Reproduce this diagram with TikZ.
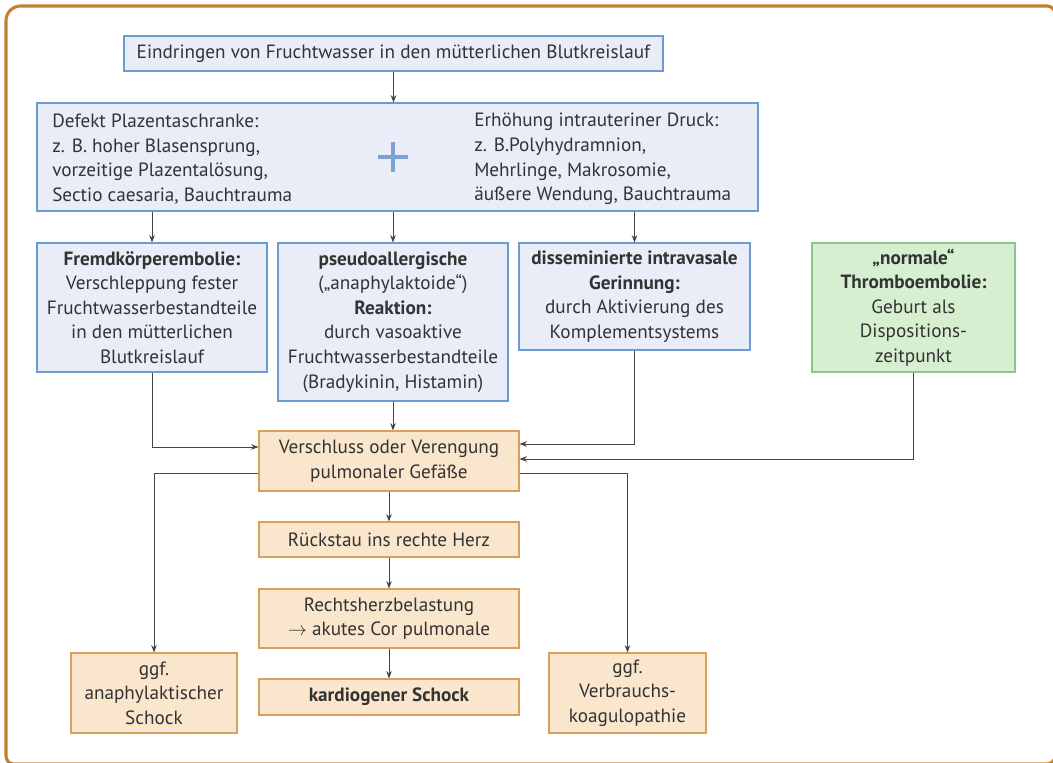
\documentclass[tikz,border=0pt]{standalone}
\usepackage{fontspec}
\setmainfont{PT Sans}
\usetikzlibrary{arrows.meta}
\usetikzlibrary{calc}
\definecolor{frameorange}{HTML}{C47F2E}
\definecolor{bluefill}{HTML}{E8EDF8}
\definecolor{bluedraw}{HTML}{6B9BD2}
\definecolor{greenfill}{HTML}{D6EFD0}
\definecolor{greendraw}{HTML}{8DC58A}
\definecolor{orangefill}{HTML}{FAE6CC}
\definecolor{orangedraw}{HTML}{D9A05B}
\definecolor{plusblue}{HTML}{7FA0D4}
\definecolor{txt}{HTML}{333333}
\definecolor{flowline}{HTML}{454545}

\begin{document}
\begin{tikzpicture}[x=0.75pt, y=-0.75pt, >={Stealth[length=5.5pt, width=4.2pt]},
box/.style={draw, line width=.8pt, inner sep=0, align=center, text=txt, font=\fontsize{14.4}{18.4}\selectfont},
bluebox/.style={box, draw=bluedraw, fill=bluefill},
greenbox/.style={box, draw=greendraw, fill=greenfill},
orangebox/.style={box, draw=orangedraw, fill=orangefill},
plain/.style={inner sep=0, align=left, text=txt, font=\fontsize{14.4}{18.4}\selectfont},
pluscross/.style={minimum size=22.5pt, inner sep=0, path picture={
  \draw[plusblue, line width=3pt] (path picture bounding box.north) -- (path picture bounding box.south)
  (path picture bounding box.west) -- (path picture bounding box.east);}},
flow/.style={->, line width=.75pt, draw=flowline},
frame/.style={draw=frameorange, line width=2.3pt}]
\useasboundingbox (0,0) rectangle (1053,763);
%%%%%%%%%%%%%%%%%%%%%%% RAHMEN %%%%%%%%%%%%%%%%%%%%%%%%%%%
\draw[frame] (6,300) [rounded corners=11pt] -- (6,6) [rounded corners=6pt] -- (1055,6) -- (1055,764) -- (6,764) -- cycle;
%%%%%%%%%%%%%%%%%%%%%%% URSACHEN %%%%%%%%%%%%%%%%%%%%%%%%%%%
\node[bluebox, minimum width=404.25pt, minimum height=26.25pt] (entry) at (393.5,53.5) {Eindringen von Fruchtwasser in den mütterlichen Blutkreislauf};
\node[bluebox, minimum width=540.75pt, minimum height=81pt] (risk) at (397.5,157) {};
\node[plain, anchor=west] (placenta) at (52,159) {Defekt Plazentaschranke:\\z. B. hoher Blasensprung,\\vorzeitige Plazentalösung,\\Sectio caesaria, Bauchtrauma};
\node[plain, anchor=west] (pressure) at (474,159) {Erhöhung intrauteriner Druck:\\z. B.Polyhydramnion,\\Mehrlinge, Makrosomie,\\äußere Wendung, Bauchtrauma};
\node[pluscross] (plus) at (393,157) {};
%%%%%%%%%%%%%%%%%%%%%%% MECHANISMEN %%%%%%%%%%%%%%%%%%%%%%%%%%%
\node[bluebox, minimum width=172.5pt, minimum height=96.75pt] (fremd) at (152,307.5) {\textbf{Fremdkörperembolie:}\\Verschleppung fester\\Fruchtwasserbestandteile\\in den mütterlichen\\Blutkreislauf};
\node[bluebox, minimum width=172.5pt, minimum height=118.5pt] (pseudo) at (393,322) {\textbf{pseudoallergische}\\(„anaphylaktoide“)\\\textbf{Reaktion:}\\durch vasoaktive\\Fruchtwasserbestandteile\\(Bradykinin, Histamin)};
\node[bluebox, minimum width=173.25pt, minimum height=80.25pt] (dic) at (634.5,296.5) {\textbf{disseminierte intravasale}\\\textbf{Gerinnung:}\\durch Aktivierung des\\Komplementsystems};
\node[greenbox, minimum width=152.25pt, minimum height=96.75pt] (thrombo) at (913.5,307.5) {\textbf{„normale“}\\\textbf{Thromboembolie:}\\Geburt als\\Dispositions-\\zeitpunkt};
%%%%%%%%%%%%%%%%%%%%%%% FOLGEN %%%%%%%%%%%%%%%%%%%%%%%%%%%
\node[orangebox, minimum width=195pt, minimum height=45pt] (occl) at (389,461) {Verschluss oder Verengung\\pulmonaler Gefäße};
\node[orangebox, minimum width=195pt, minimum height=26.25pt] (reflux) at (389,539.5) {Rückstau ins rechte Herz};
\node[orangebox, minimum width=195pt, minimum height=44.25pt] (strain) at (389,618.5) {Rechtsherzbelastung\\$\rightarrow$ akutes Cor pulmonale};
\node[orangebox, minimum width=195pt, minimum height=27pt] (shock) at (389,697) {\textbf{kardiogener Schock}};
\node[orangebox, minimum width=124.5pt, minimum height=60pt] (anaph) at (154,693) {ggf.\\anaphylaktischer\\Schock};
\node[orangebox, minimum width=117.75pt, minimum height=60pt] (coag) at (627.5,693) {ggf.\\Verbrauchs-\\koagulopathie};
%%%%%%%%%%%%%%%%%%%%%%% PFEILE %%%%%%%%%%%%%%%%%%%%%%%%%%%
\draw[flow] (entry.south) -- (entry.south |- risk.north);
\draw[flow] (risk.south -| fremd.north) -- (fremd.north);
\draw[flow] (risk.south -| pseudo.north) -- (pseudo.north);
\draw[flow] (risk.south -| dic.north) -- (dic.north);
\draw[flow] (fremd.south) |- ([yshift=10.5pt]occl.west);
\draw[flow] (pseudo.south) -- (pseudo.south |- occl.north);
\draw[flow] (dic.south) |- ([yshift=12.75pt]occl.east);
\draw[flow] (thrombo.south) |- ([yshift=1.5pt]occl.east);
\draw[flow] ([yshift=-9pt]occl.west) -| (anaph.north);
\draw[flow] ([yshift=-9pt]occl.east) -| (coag.north);
\draw[flow] (occl) -- (reflux);
\draw[flow] (reflux) -- (strain);
\draw[flow] (strain) -- (shock);
\end{tikzpicture}
\end{document}
